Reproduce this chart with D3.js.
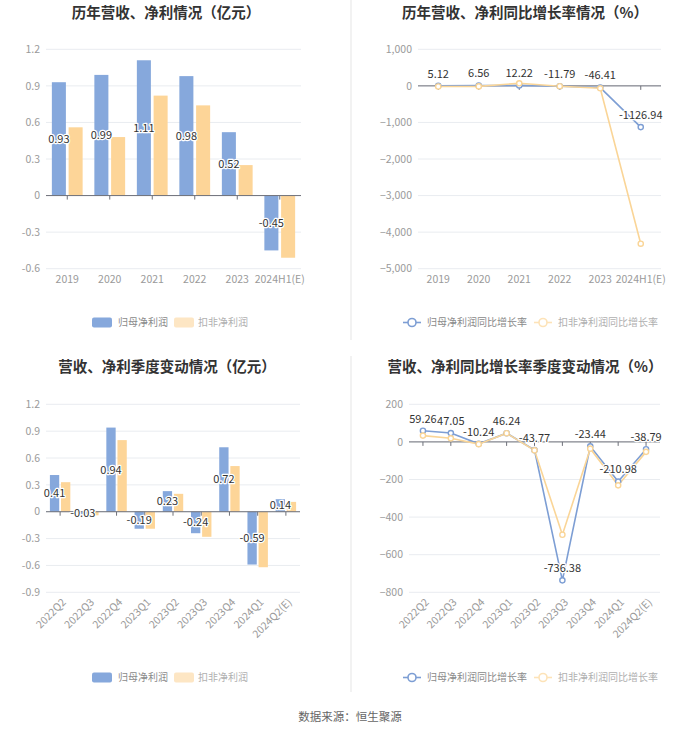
<!DOCTYPE html>
<html><head><meta charset="utf-8">
<script src="https://cdn.jsdelivr.net/npm/d3@7/dist/d3.min.js"></script>
<style>
body{margin:0;background:#fff;}
text{font-family:"Noto Sans CJK SC","Noto Sans",sans-serif;}
</style></head>
<body><svg id="c" width="700" height="734"></svg>
<script>
// ---- data ----
const years = ["2019","2020","2021","2022","2023","2024H1(E)"];
const annualParent = [0.93, 0.99, 1.11, 0.98, 0.52, -0.45];
const annualDeduct = [0.56, 0.48, 0.82, 0.74, 0.25, -0.51];
const annualParentGrowth = [5.12, 6.56, 12.22, -11.79, -46.41, -1126.94];
const annualDeductGrowth = [-18, -14.3, 70.8, -9.8, -66.2, -4316];
const quarters = ["2022Q2","2022Q3","2022Q4","2023Q1","2023Q2","2023Q3","2023Q4","2024Q1","2024Q2(E)"];
const quarterParent = [0.41, -0.03, 0.94, -0.19, 0.23, -0.24, 0.72, -0.59, 0.14];
const quarterDeduct = [0.33, -0.04, 0.80, -0.19, 0.20, -0.28, 0.51, -0.62, 0.11];
const quarterParentGrowth = [59.26, 47.05, -10.24, 46.24, -43.77, -736.38, -23.44, -210.98, -38.79];
const quarterDeductGrowth = [33.6, 19, -12, 46, -45, -494, -36, -231, -53];
const ticksAnnualBar = [-0.6, -0.3, 0, 0.3, 0.6, 0.9, 1.2];
const ticksAnnualGrowth = [-5000, -4000, -3000, -2000, -1000, 0, 1000];
const ticksQuarterBar = [-0.9, -0.6, -0.3, 0, 0.3, 0.6, 0.9, 1.2];
const ticksQuarterGrowth = [-800, -600, -400, -200, 0, 200];
const seriesNames = ["归母净利润", "扣非净利润"];
const lineNames = ["归母净利润同比增长率", "扣非净利润同比增长率"];
const titles = ["历年营收、净利情况（亿元）", "历年营收、净利同比增长率情况（%）", "营收、净利季度变动情况（亿元）", "营收、净利同比增长率季度变动情况（%）"];
const source = "数据来源：恒生聚源";

const BLUE = "#86a8dc", ORANGE = "#fdd598";
const LBLUE = "#7d9ed4", LORANGE = "#fad597";
const svg = d3.select("#c");

// dividers
svg.append("line").attr("x1",351).attr("x2",351).attr("y1",0).attr("y2",340).attr("stroke","#f2f2f2").attr("stroke-width",2);
svg.append("line").attr("x1",351).attr("x2",351).attr("y1",356).attr("y2",692).attr("stroke","#f2f2f2").attr("stroke-width",2);

function fmt(v){ return d3.format(",")(v); }

function frame(cfg){
  const g = svg.append("g");
  g.append("text").attr("x",cfg.titleX).attr("y",cfg.titleY).attr("text-anchor","middle")
    .attr("font-size",14.5).attr("font-weight","bold").attr("fill","#333").text(cfg.title);
  const x = d3.scaleBand().domain(cfg.cats).range(cfg.xr);
  const y = d3.scaleLinear().domain(cfg.yd).range(cfg.yr);
  // grid
  g.selectAll(".gl").data(cfg.ticks).enter().append("line")
    .attr("x1",cfg.xr[0]).attr("x2",cfg.xr[1]).attr("y1",d=>y(d)).attr("y2",d=>y(d))
    .attr("stroke","#e9ecf0").attr("stroke-width",1);
  // y labels
  g.selectAll(".yl").data(cfg.ticks).enter().append("text")
    .attr("x",cfg.xr[0]-6).attr("y",d=>y(d)).attr("dy","0.35em").attr("text-anchor","end")
    .attr("font-size",10.5).attr("fill","#9a9a9a").text(d=>cfg.fmtY(d));
  // x labels
  const xl = g.selectAll(".xl").data(cfg.cats).enter().append("text")
    .attr("font-size",10.5).attr("fill","#9a9a9a").text(d=>d);
  if(cfg.rotate){
    xl.attr("text-anchor","end")
      .attr("transform",d=>`translate(${x(d)+x.bandwidth()/2+4},${cfg.yr[0]+8}) rotate(-45)`)
      .attr("dy","0.35em");
  } else {
    xl.attr("x",d=>x(d)+x.bandwidth()/2).attr("y",cfg.yr[0]+14).attr("text-anchor","middle");
  }
  return {g,x,y};
}

function zeroAxis(g,x,y,cfg){
  g.append("line").attr("x1",cfg.xr[0]).attr("x2",cfg.xr[1]).attr("y1",y(0)).attr("y2",y(0))
    .attr("stroke","#6e7079").attr("stroke-width",1);
  g.selectAll(".tk").data(cfg.cats).enter().append("line")
    .attr("x1",d=>x(d)+x.bandwidth()/2).attr("x2",d=>x(d)+x.bandwidth()/2)
    .attr("y1",y(0)).attr("y2",y(0)+4).attr("stroke","#6e7079").attr("stroke-width",1);
}

function labelText(g,xp,yp,t){
  g.append("text").attr("x",xp).attr("y",yp).attr("text-anchor","middle").attr("dy","0.35em")
    .attr("font-size",11).attr("fill","#333").attr("stroke","#fff").attr("stroke-width",2.5)
    .attr("paint-order","stroke").attr("stroke-linejoin","round").text(t);
}

function barPanel(cfg){
  const {g,x,y} = frame(cfg);
  const bw = x.bandwidth()*0.33, gap = x.bandwidth()*0.064;
  const off = (x.bandwidth() - 2*bw - gap)/2;
  [cfg.s1, cfg.s2].forEach((s,si)=>{
    g.selectAll(".b"+si).data(s).enter().append("rect")
      .attr("x",(d,i)=>x(cfg.cats[i])+off+si*(bw+gap))
      .attr("width",bw)
      .attr("y",d=>Math.min(y(d),y(0)))
      .attr("height",d=>Math.abs(y(d)-y(0)))
      .attr("fill",si?ORANGE:BLUE);
  });
  zeroAxis(g,x,y,cfg);
  cfg.s1.forEach((d,i)=>{
    labelText(g, x(cfg.cats[i])+off+bw/2, (y(d)+y(0))/2, d.toFixed(2));
  });
  // legend
  const L = cfg.legend;
  const lg = svg.append("g");
  lg.append("rect").attr("x",L.x).attr("y",L.y-5).attr("width",20).attr("height",10).attr("rx",2).attr("fill",BLUE);
  lg.append("text").attr("x",L.x+26).attr("y",L.y).attr("dy","0.35em").attr("font-size",10).attr("fill","#8a8a8a").text(seriesNames[0]);
  lg.append("rect").attr("x",L.x+82).attr("y",L.y-5).attr("width",20).attr("height",10).attr("rx",2).attr("fill","#fde6c4");
  lg.append("text").attr("x",L.x+106).attr("y",L.y).attr("dy","0.35em").attr("font-size",10).attr("fill","#b0b0b0").text(seriesNames[1]);
}

function linePanel(cfg){
  const {g,x,y} = frame(cfg);
  zeroAxis(g,x,y,cfg);
  const cx = c=>x(c)+x.bandwidth()/2;
  const line = d3.line().x((d,i)=>cx(cfg.cats[i])).y(d=>y(d));
  [[cfg.s1,LBLUE],[cfg.s2,LORANGE]].forEach(([s,col])=>{
    g.append("path").datum(s).attr("d",line).attr("fill","none").attr("stroke",col).attr("stroke-width",1.6);
  });
  [[cfg.s1,LBLUE],[cfg.s2,LORANGE]].forEach(([s,col])=>{
    g.selectAll(null).data(s).enter().append("circle")
      .attr("cx",(d,i)=>cx(cfg.cats[i])).attr("cy",d=>y(d)).attr("r",2.6)
      .attr("fill","#fff").attr("stroke",col).attr("stroke-width",1.4);
  });
  cfg.s1.forEach((d,i)=>{ labelText(g, cx(cfg.cats[i]), y(d)-12, d.toFixed(2)); });
  const L = cfg.legend;
  const lg = svg.append("g");
  [[0,LBLUE,"#8a8a8a"],[1,"#fde3b8","#b0b0b0"]].forEach(([k,col,tc])=>{
    const x0 = L.x + k*131;
    lg.append("line").attr("x1",x0).attr("x2",x0+18).attr("y1",L.y).attr("y2",L.y).attr("stroke",col).attr("stroke-width",1.6);
    lg.append("circle").attr("cx",x0+9).attr("cy",L.y).attr("r",4).attr("fill","#fff").attr("stroke",col).attr("stroke-width",1.6);
    lg.append("text").attr("x",x0+24).attr("y",L.y).attr("dy","0.35em").attr("font-size",10).attr("fill",tc).text(lineNames[k]);
  });
}

barPanel({title:titles[0],titleX:166,titleY:18,cats:years,s1:annualParent,s2:annualDeduct,
  xr:[46,301],yd:[-0.6,1.2],yr:[268.7,49.3],ticks:ticksAnnualBar,fmtY:d=>d===0?"0":d.toFixed(1),
  legend:{x:92,y:322.5}});
linePanel({title:titles[1],titleX:525,titleY:18,cats:years,s1:annualParentGrowth,s2:annualDeductGrowth,
  xr:[418,661],yd:[-5000,1000],yr:[268.7,49.3],ticks:ticksAnnualGrowth,fmtY:fmt,
  legend:{x:403,y:322.5}});
barPanel({title:titles[2],titleX:167,titleY:372,cats:quarters,s1:quarterParent,s2:quarterDeduct,
  xr:[46,300],yd:[-0.9,1.2],yr:[592.3,404.3],ticks:ticksQuarterBar,fmtY:d=>d===0?"0":d.toFixed(1),rotate:true,
  legend:{x:92,y:677.5}});
linePanel({title:titles[3],titleX:525,titleY:372,cats:quarters,s1:quarterParentGrowth,s2:quarterDeductGrowth,
  xr:[409,660],yd:[-800,200],yr:[592.3,404.3],ticks:ticksQuarterGrowth,fmtY:fmt,rotate:true,
  legend:{x:403,y:677.5}});

svg.append("text").attr("x",350).attr("y",717).attr("dy","0.35em").attr("text-anchor","middle")
  .attr("font-size",11.5).attr("fill","#666").text(source);
</script></body></html>
